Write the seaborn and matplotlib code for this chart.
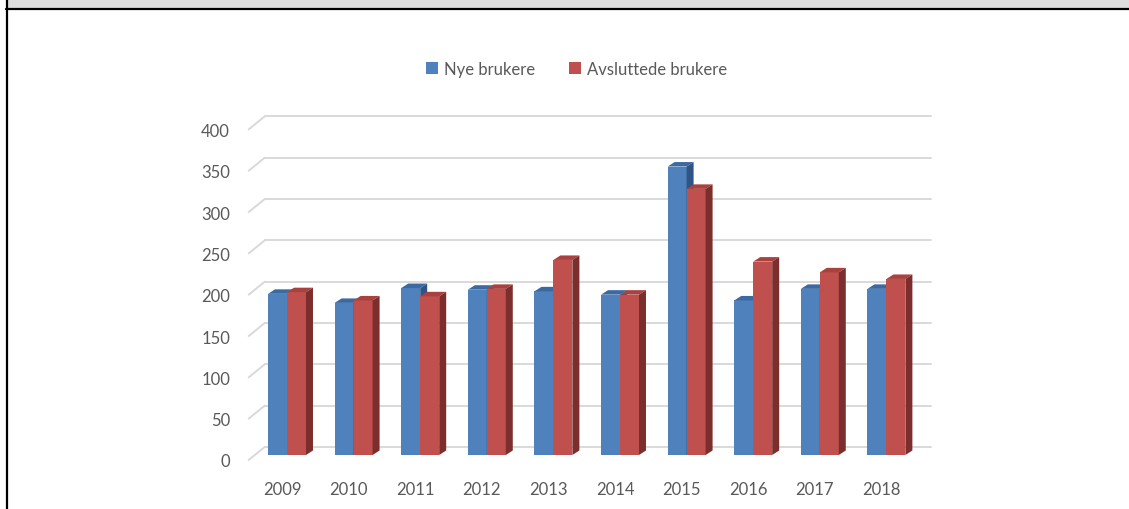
import numpy as np
import pandas as pd
import seaborn as sns
import matplotlib.pyplot as plt
from matplotlib.patches import Polygon, Rectangle
from matplotlib.lines import Line2D
from matplotlib.transforms import ScaledTranslation, IdentityTransform

# Data
years = ['2009', '2010', '2011', '2012', '2013', '2014', '2015', '2016', '2017', '2018']
nye = [195, 184, 202, 200, 198, 194, 349, 187, 201, 201]
avsluttede = [197, 187, 192, 201, 236, 194, 322, 234, 221, 213]
series_names = ['Nye brukere', 'Avsluttede brukere']
y_ticks = [0, 50, 100, 150, 200, 250, 300, 350, 400]

front_colors = ['#4F81BD', '#C0504D']
top_colors = ['#3B6AA3', '#A9423F']
side_colors = ['#2F5586', '#7B2E2C']
text_color = '#595959'
grid_color = '#D9D9D9'

df = pd.DataFrame({
    'year': years * 2,
    'value': nye + avsluttede,
    'series': [series_names[0]] * len(years) + [series_names[1]] * len(years),
})

sns.set_style('white')
plt.rcParams['font.family'] = ['Lato', 'DejaVu Sans']

dpi = 100
W, H = 1129, 510
fig = plt.figure(figsize=(W / dpi, H / dpi), dpi=dpi)
ax = fig.add_axes([253.7 / W, 54 / H, 666 / W, 330.6 / H])

sns.barplot(data=df, x='year', y='value', hue='series', hue_order=series_names,
            palette=front_colors, width=0.57, saturation=1, legend=False,
            linewidth=0, ax=ax)
ax.set_xlim(-0.5, len(years) - 0.5)
ax.set_ylim(0, 400)
for s in ax.spines.values():
    s.set_visible(False)
ax.set_xlabel('')
ax.set_ylabel('')

# 3D look: depth offsets in pixels (front plane, bar depth, back wall)
def px(dx, dy):
    return ScaledTranslation(dx / dpi, dy / dpi, fig.dpi_scale_trans)

bar_dx, bar_dy = 7, 4.5
front_dx, front_dy = -5, -5
back_dx, back_dy = 11, 8

x_per_px = 1 / ax.transData.get_matrix()[0, 0]
y_per_px = 1 / ax.transData.get_matrix()[1, 1]
ddx, ddy = bar_dx * x_per_px, bar_dy * y_per_px

n = len(years)
for k, p in enumerate(ax.patches):
    hue_i = k // n
    p.set_zorder(3 + hue_i)
    x0, w, h = p.get_x(), p.get_width(), p.get_height()
    x1 = x0 + w
    top = Polygon([(x0, h), (x1, h), (x1 + ddx, h + ddy), (x0 + ddx, h + ddy)],
                  closed=True, facecolor=top_colors[hue_i], edgecolor='none',
                  zorder=3 + hue_i, clip_on=False)
    side = Polygon([(x1, 0), (x1, h), (x1 + ddx, h + ddy), (x1 + ddx, ddy)],
                   closed=True, facecolor=side_colors[hue_i], edgecolor='none',
                   zorder=3 + hue_i, clip_on=False)
    ax.add_patch(top)
    ax.add_patch(side)

# back wall gridlines and side wall diagonals
for v in y_ticks:
    ax.plot([-0.5, n - 0.5], [v, v], color=grid_color, lw=1.4, zorder=1,
            clip_on=False, transform=ax.transData + px(back_dx, back_dy))
    p0 = ax.transData.transform((-0.5, v))
    fig.add_artist(Line2D([p0[0] + front_dx, p0[0] + back_dx],
                          [p0[1] + front_dy, p0[1] + back_dy],
                          color=grid_color, lw=1.4, zorder=1,
                          transform=IdentityTransform()))

# ticks on the front plane
ax.set_yticks(y_ticks)
ax.set_yticklabels([str(v) for v in y_ticks])
ax.tick_params(axis='both', length=0, labelsize=12, labelcolor=text_color)
ax.tick_params(axis='y', pad=17)
ax.tick_params(axis='x', pad=19)
for lab in ax.get_yticklabels():
    lab.set_transform(lab.get_transform() + px(0, front_dy))
for lab in ax.get_xticklabels():
    lab.set_transform(lab.get_transform() + px(front_dx, 0))

# legend
handles = [Rectangle((0, 0), 1, 1, facecolor=c, edgecolor='none') for c in front_colors]
fig.legend(handles, series_names, loc='center', bbox_to_anchor=(576.5 / W, 1 - 70 / H),
           ncol=2, frameon=False, fontsize=12, labelcolor=text_color,
           handlelength=0.75, handleheight=0.75, handletextpad=0.35, columnspacing=2.0)

# frame from the surrounding page
fig.add_artist(Rectangle((8 / W, 1 - 9 / H), 1, 9 / H, transform=fig.transFigure,
                         facecolor='#DEDEDE', edgecolor='none'))
fig.add_artist(Line2D([6 / W, 1], [1 - 10 / H, 1 - 10 / H], transform=fig.transFigure,
                      color='black', lw=1.6))
fig.add_artist(Line2D([7 / W, 7 / W], [0, 1], transform=fig.transFigure,
                      color='black', lw=1.6))

fig.savefig('out.png', dpi=dpi, facecolor='white')
